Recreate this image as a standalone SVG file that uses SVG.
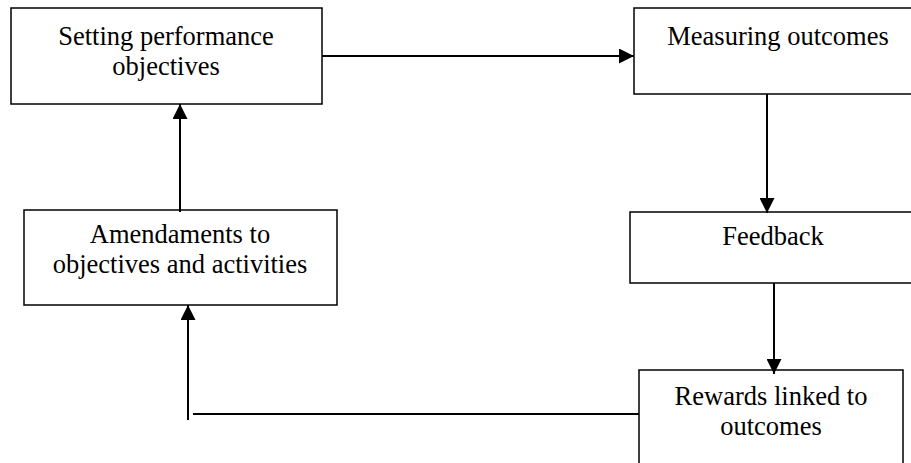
<svg xmlns="http://www.w3.org/2000/svg" width="911" height="463" viewBox="0 0 911 463">
<style>
.box{fill:#fff;stroke:#000;stroke-width:1.5}
.lbl{font-family:"Liberation Serif","Times New Roman",serif;font-size:26.5px;fill:#000;text-anchor:middle}
.con{stroke:#000;stroke-width:2;fill:none}
</style>
<defs>
<marker id="ah" viewBox="0 0 10 10" refX="10" refY="5" markerUnits="userSpaceOnUse" markerWidth="15" markerHeight="15" orient="auto">
<path d="M0,0 L10,5 L0,10 Z" fill="#000"/>
</marker>
</defs>
<rect width="911" height="463" fill="#fff"/>
<g id="n1"><rect class="box" x="11" y="8" width="311" height="96"/>
<text class="lbl" x="166" y="45">Setting performance</text>
<text class="lbl" x="166" y="75">objectives</text></g>
<g id="n2"><rect class="box" x="634" y="8" width="290" height="86"/>
<text class="lbl" x="778" y="45">Measuring outcomes</text></g>
<g id="n3"><rect class="box" x="630" y="212" width="290" height="71"/>
<text class="lbl" x="773" y="245">Feedback</text></g>
<g id="n4"><rect class="box" x="639" y="370" width="264" height="100"/>
<text class="lbl" x="771" y="405">Rewards linked to</text>
<text class="lbl" x="771" y="435">outcomes</text></g>
<g id="n5"><rect class="box" x="24" y="210" width="313" height="95"/>
<text class="lbl" x="180" y="243">Amendaments to</text>
<text class="lbl" x="180" y="273">objectives and activities</text></g>
<g id="connectors">
<line class="con" x1="322" y1="56" x2="634" y2="56" marker-end="url(#ah)"/>
<line class="con" x1="767" y1="94" x2="767" y2="213" marker-end="url(#ah)"/>
<line class="con" x1="774" y1="283" x2="774" y2="374" marker-end="url(#ah)"/>
<line class="con" x1="639" y1="414" x2="193" y2="414"/>
<line class="con" x1="188" y1="420" x2="188" y2="305" marker-end="url(#ah)"/>
<line class="con" x1="180" y1="212" x2="180" y2="104" marker-end="url(#ah)"/>
</g>
</svg>
